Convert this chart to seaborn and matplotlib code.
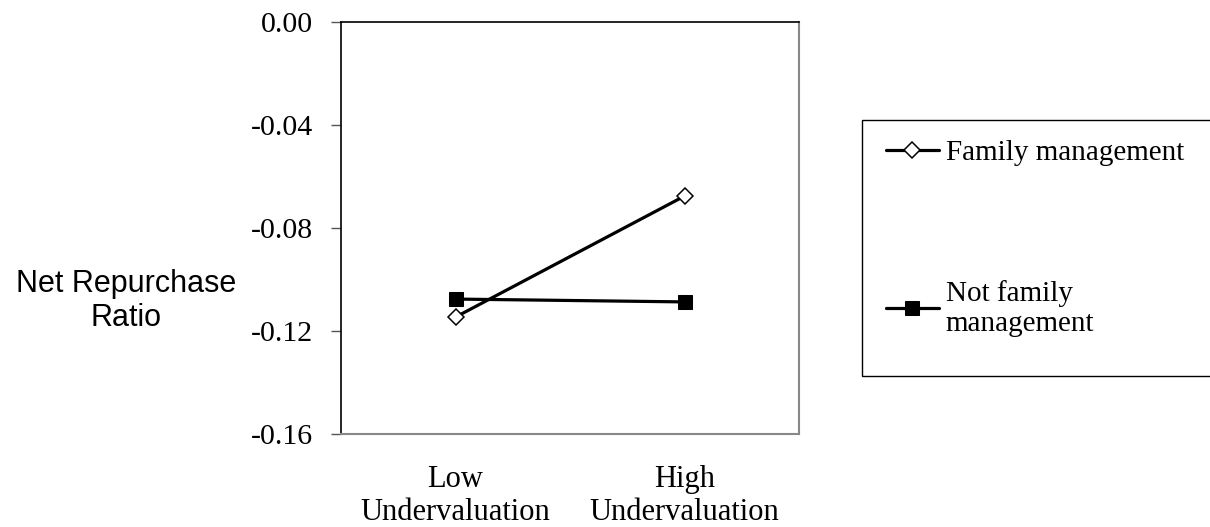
import pandas as pd
import numpy as np
import matplotlib
matplotlib.use('Agg')
import matplotlib.pyplot as plt
import seaborn as sns
from matplotlib.patches import Rectangle

# values
categories = ['Low\nUndervaluation', 'High\nUndervaluation']
family_mgmt = [-0.1146, -0.0676]
not_family_mgmt = [-0.1076, -0.1087]
series_names = ['Family management', 'Not family\nmanagement']
y_ticks = [0.00, -0.04, -0.08, -0.12, -0.16]

sns.set_style('white')
plt.rcParams['font.family'] = ['Liberation Serif', 'DejaVu Serif']
plt.rcParams['text.color'] = 'black'

fig = plt.figure(figsize=(12.1, 5.27), dpi=100)
ax = fig.add_axes([341/1210, 1-434/527, (799-341)/1210, (434-22)/527])

sns.lineplot(x=categories, y=family_mgmt, ax=ax, color='black', lw=2.3,
             marker='D', markersize=8.5, markerfacecolor='white',
             markeredgecolor='black', markeredgewidth=1.1, label=series_names[0])
sns.lineplot(x=categories, y=not_family_mgmt, ax=ax, color='black', lw=2.3,
             marker='s', markersize=10, markerfacecolor='black',
             markeredgecolor='black', label=series_names[1])

ax.set_xlim(-0.5, 1.5)
ax.set_ylim(-0.16, 0.0)
ax.set_yticks(y_ticks)
ax.set_yticklabels([f'{v:.2f}' for v in y_ticks])
ax.tick_params(axis='y', length=7, width=1, direction='out', left=True,
               labelsize=21.5, pad=13, color='#555555', labelcolor='black')
ax.tick_params(axis='x', length=0, labelsize=22, pad=22, labelcolor='black')
for lab in ax.get_xticklabels():
    lab.set_linespacing(1.2)

for side in ['left', 'top']:
    ax.spines[side].set_color('black')
    ax.spines[side].set_linewidth(1.2)
for side in ['right', 'bottom']:
    ax.spines[side].set_color('#888888')
    ax.spines[side].set_linewidth(1.5)

ax.set_xlabel('')
ax.set_ylabel('')
fig.text(126/1210, 1-301/527, 'Net Repurchase\nRatio', ha='center', va='center',
         fontsize=22, family=['Liberation Sans', 'DejaVu Sans'], linespacing=1.15)

# legend in its own box, which runs off the right edge
handles, labels = ax.get_legend_handles_labels()
ax.get_legend().remove()
fig.patches.append(Rectangle((862/1210, 1-376/527), 360/1210, 256/527,
                             transform=fig.transFigure, fill=False,
                             edgecolor='black', lw=1.0))
fig.legend(handles, labels, loc='upper left',
           bbox_to_anchor=(886/1210, 1-140/527), frameon=False,
           fontsize=21, handlelength=1.8, handletextpad=0.25,
           labelspacing=3.9, borderpad=0, borderaxespad=0)

fig.savefig('out.png', dpi=100)
